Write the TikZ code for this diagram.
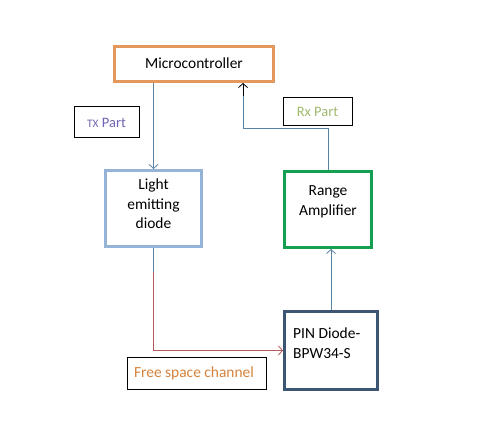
\documentclass[tikz,border=0pt]{standalone}
\usepackage{fontspec}
\setmainfont{Carlito}
\usetikzlibrary{arrows.meta}
\definecolor{mcorange}{RGB}{228,152,92}
\definecolor{ledblue}{RGB}{149,179,215}
\definecolor{ampgreen}{RGB}{20,160,80}
\definecolor{pinblue}{RGB}{59,85,115}
\definecolor{wireblue}{RGB}{90,130,165}
\definecolor{wirered}{RGB}{185,90,90}
\definecolor{txpurple}{RGB}{112,100,180}
\definecolor{rxgreen}{RGB}{160,185,110}
\definecolor{fsorange}{RGB}{214,130,60}
\tikzset{
  blockbox/.style={draw, line width=3bp, inner sep=0pt},
  tagbox/.style={draw=black, line width=1bp, inner sep=0pt},
  txt/.style={font=\fontsize{15.5}{19.5}\selectfont, align=center, inner sep=0pt},
  smalltxt/.style={font=\fontsize{14.5}{16}\selectfont, inner sep=0pt},
  wire/.style={line width=0.8bp, draw=wireblue},
  arr/.style={-{Straight Barb[length=4bp,width=9bp]}}
}
\begin{document}
\begin{tikzpicture}[x=1bp,y=-1bp]
\useasboundingbox (0,0) rectangle (489,443);
\fill[white] (0,0) rectangle (489,443);
% blocks
\node[blockbox, draw=mcorange, minimum width=159bp, minimum height=35bp] (mc) at (194,64) {};
\node[txt] (mct) at (194,63) {Microcontroller};
\node[blockbox, draw=ledblue, minimum width=96bp, minimum height=76bp] (led) at (153.5,208.5) {};
\node[txt] (ledt) at (153.5,204) {Light\\emitting\\diode};
\node[blockbox, draw=ampgreen, minimum width=87bp, minimum height=76bp] (amp) at (328,209.5) {};
\node[txt] (ampt) at (328,202) {Range\\Amplifier};
\node[blockbox, draw=pinblue, minimum width=93bp, minimum height=78bp] (pin) at (331,350.5) {};
\node[txt, align=left, anchor=west] (pint) at (293,343) {PIN Diode-\\BPW34-S};
% tags
\node[tagbox, minimum width=65bp, minimum height=31bp] (tx) at (106.5,122.5) {};
\node[smalltxt, text=txpurple] (txt) at (106.5,122.5) {{\fontsize{11.5}{14}\selectfont TX} Part};
\node[tagbox, minimum width=69bp, minimum height=28bp] (rx) at (317.5,112) {};
\node[smalltxt, text=rxgreen] (rxt) at (317.5,112) {Rx Part};
\node[tagbox, minimum width=139bp, minimum height=32bp] (fs) at (196.5,373) {};
\node[txt, text=fsorange] (fst) at (194,373) {Free space channel};
% connectors
\draw[wire, arr] (mc.south -| led.north) -- (led.north);
\coordinate (rxbend) at (243,128);
\coordinate (rxk) at (243,96);
\draw[wire] (amp.north) |- (rxbend) -- (rxk);
\draw[line width=0.8bp, black, arr] (rxk) -- (rxk |- mc.south);
\draw[wire, arr] (pin.north) -- (pin.north |- amp.south);
\coordinate (ledk) at (led.south |- 0,272);
\draw[wire] (led.south) -- (ledk);
\draw[line width=0.8bp, draw=wirered, arr] (ledk) |- (pin.west);
\end{tikzpicture}
\end{document}
